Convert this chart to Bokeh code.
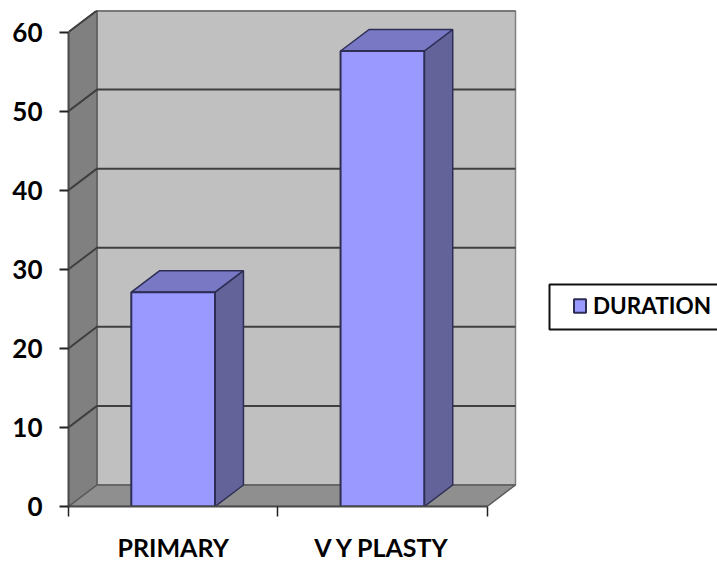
from bokeh.embed import file_html
from bokeh.resources import INLINE
from bokeh.plotting import figure
from bokeh.models import BoxAnnotation, FixedTicker, Legend, LegendItem, Range1d

categories = ["PRIMARY", "V Y PLASTY"]
duration = [27.1, 57.6]
y_ticks = [0, 10, 20, 30, 40, 50, 60]

# Depth of the pseudo-3D box, in data units, and bar width as a share of a category
DX = 0.136
DY = 2.72
BAR_WIDTH = 0.4
Y_MAX = y_ticks[-1]
N = len(categories)
# The frame runs to the page edge so the legend can sit beside the box
X_END = 3.1012

WALL = "#C0C0C0"
SIDE_WALL = "#808080"
FLOOR = "#8F8F8F"
GRID = "#3F3F3F"
EDGE = "#2E2E55"
BAR_FRONT = "#9999FF"
BAR_SIDE = "#636399"
BAR_TOP = "#7878C4"
FONT = "Lato"

p = figure(
    width=717, height=564, output_backend="svg", toolbar_location=None,
    x_range=Range1d(0, X_END), y_range=Range1d(0, Y_MAX + DY),
    min_border_left=68, min_border_right=0, min_border_top=10, min_border_bottom=58,
    outline_line_color=None, background_fill_color="white", border_fill_color="white",
)
p.grid.visible = False

# Box walls
p.patch([DX, N + DX, N + DX, DX], [DY, DY, Y_MAX + DY, Y_MAX + DY],
        fill_color=WALL, line_color=SIDE_WALL, line_width=1.5)
p.patch([0, DX, DX, 0], [0, DY, Y_MAX + DY, Y_MAX],
        fill_color=SIDE_WALL, line_color="#5A5A5A", line_width=1.5)
p.patch([0, N, N + DX, DX], [0, 0, DY, DY],
        fill_color=FLOOR, line_color="#5A5A5A", line_width=1.5)

# Gridlines run along the back wall and down the side wall
levels = y_ticks[1:]
p.multi_line([[0, DX, N + DX] for _ in levels],
             [[v, v + DY, v + DY] for v in levels],
             line_color=GRID, line_width=2)

# Bars: side and top faces first, then the front
centers = [i + 0.5 for i in range(N)]
for c, v in zip(centers, duration):
    r = c + BAR_WIDTH / 2
    l = c - BAR_WIDTH / 2
    p.patch([r, r + DX, r + DX, r], [0, DY, v + DY, v],
            fill_color=BAR_SIDE, line_color=EDGE, line_width=1.5)
    p.patch([l, r, r + DX, l + DX], [v, v, v + DY, v + DY],
            fill_color=BAR_TOP, line_color=EDGE, line_width=1.5)
front = p.vbar(x=centers, top=duration, bottom=0, width=BAR_WIDTH,
               fill_color=BAR_FRONT, line_color=EDGE, line_width=2)

# Axes
p.yaxis.ticker = FixedTicker(ticks=y_ticks)
p.yaxis.bounds = (0, Y_MAX)
p.yaxis.major_tick_in = 0
p.yaxis.major_tick_out = 9
p.yaxis.minor_tick_line_color = None
p.yaxis.axis_line_color = "#4A4A4A"
p.yaxis.axis_line_width = 2
p.yaxis.major_tick_line_color = "#222222"
p.yaxis.major_tick_line_width = 2
p.yaxis.major_label_text_font = FONT
p.yaxis.major_label_text_font_style = "bold"
p.yaxis.major_label_text_font_size = "26px"
p.yaxis.major_label_text_color = "#000000"
p.yaxis.major_label_standoff = 17

p.xaxis.ticker = FixedTicker(ticks=centers, minor_ticks=list(range(N + 1)))
p.xaxis.major_label_overrides = dict(zip(centers, categories))
p.xaxis.bounds = (0, N)
p.xaxis.major_tick_line_color = None
p.xaxis.major_tick_in = 0
p.xaxis.major_tick_out = 0
p.xaxis.minor_tick_in = 0
p.xaxis.minor_tick_out = 10
p.xaxis.minor_tick_line_color = "#222222"
p.xaxis.minor_tick_line_width = 1.5
p.xaxis.axis_line_color = "#4A4A4A"
p.xaxis.axis_line_width = 2
p.xaxis.major_label_text_font = FONT
p.xaxis.major_label_text_font_style = "bold"
p.xaxis.major_label_text_font_size = "25px"
p.xaxis.major_label_text_color = "#000000"
p.xaxis.major_label_standoff = 15

# Legend frame, wider than the entry and running off the page edge;
# screen offsets are measured from the frame's lower left corner
p.add_layout(BoxAnnotation(left=481, right=660, top=222, bottom=177,
                           left_units="screen", right_units="screen",
                           top_units="screen", bottom_units="screen",
                           fill_color="white", fill_alpha=1.0,
                           line_color="#111111", line_alpha=1.0, line_width=2))

legend = Legend(
    items=[LegendItem(label="DURATION", renderers=[front])],
    location=(504, 187), orientation="vertical",
    label_text_font=FONT, label_text_font_style="bold", label_text_font_size="22.5px",
    label_text_color="#000000", glyph_width=15, glyph_height=17,
    label_standoff=6, padding=8, margin=0, spacing=0,
    border_line_color=None, background_fill_alpha=0,
)
p.add_layout(legend, "center")

open("out.html", "w").write(file_html(p, INLINE))
